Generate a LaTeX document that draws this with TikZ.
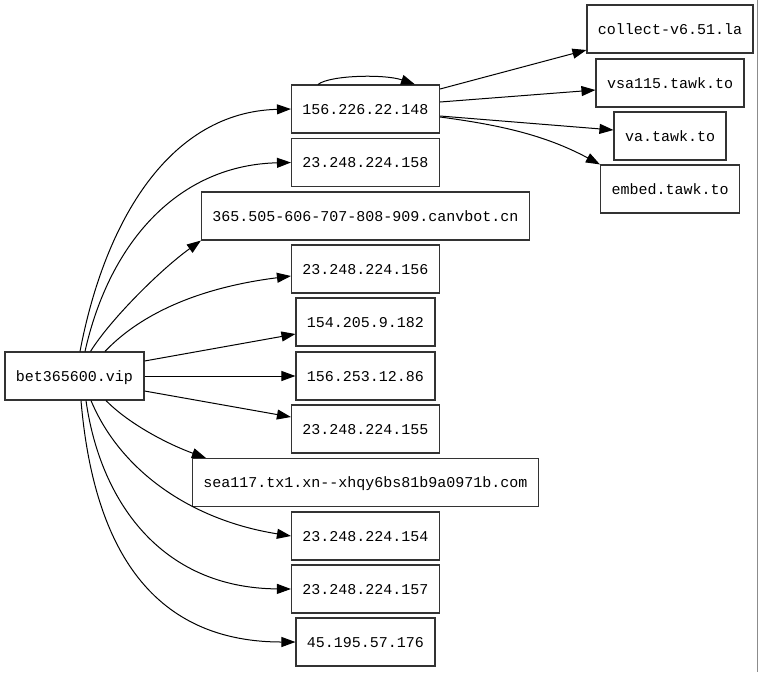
\documentclass[tikz,border=0pt]{standalone}
\usepackage{fontspec}
\newfontfamily\gvmono{Liberation Mono}
\usetikzlibrary{arrows.meta}
\tikzset{
  box/.style={draw=black!80, line width=1.1pt, rectangle, inner xsep=11pt, inner ysep=0pt,
    minimum height=48pt, text height=10pt, text depth=0pt, font=\gvmono\fontsize{15}{18}\selectfont},
  edge/.style={draw=black, line width=1pt, -{Triangle[length=14pt,width=10pt]}}
}
\begin{document}
\begin{tikzpicture}[x=1pt,y=-1pt]
\useasboundingbox (0,0) rectangle (759,672);
\draw[black!45, line width=1pt] (757.5,0) -- (757.5,672);

\node[box] (b) at (74.5,376) {bet365600.vip};
\node[box] (n1) at (365.5,109) {156.226.22.148};
\node[box] (n2) at (365.5,162.5) {23.248.224.158};
\node[box] (n3) at (365.5,216) {365.505-606-707-808-909.canvbot.cn};
\node[box] (n4) at (365.5,269) {23.248.224.156};
\node[box] (n5) at (365.5,322) {154.205.9.182};
\node[box] (n6) at (365.5,376) {156.253.12.86};
\node[box] (n7) at (365.5,429) {23.248.224.155};
\node[box] (n8) at (365.5,482.5) {sea117.tx1.xn--xhqy6bs81b9a0971b.com};
\node[box] (n9) at (365.5,536) {23.248.224.154};
\node[box] (n10) at (365.5,589) {23.248.224.157};
\node[box] (n11) at (365.5,642) {45.195.57.176};

\node[box] (c1) at (670,29) {collect-v6.51.la};
\node[box] (c2) at (670,83) {vsa115.tawk.to};
\node[box] (c3) at (670,136) {va.tawk.to};
\node[box] (c4) at (670,189) {embed.tawk.to};

% from bet365600.vip, upper side
\draw[edge] ([xshift=5.5pt]b.north) .. controls (105,220) and (170,112) .. (n1.west);
\draw[edge] ([xshift=10.5pt]b.north) .. controls (110,240) and (180,165) .. (n2.west);
\draw[edge] ([xshift=16pt]b.north) .. controls (110,320) and (160,270) .. (n3.south west);
\draw[edge] ([xshift=30.5pt]b.north) .. controls (130,325) and (180,290) .. ([yshift=-7pt]n4.west);
\draw[edge] ([yshift=15pt]b.east) -- ([yshift=-12pt]n5.west);
\draw[edge] (b.east) -- (n6.west);
\draw[edge] ([yshift=-15pt]b.east) -- ([yshift=12pt]n7.west);
% lower side
\draw[edge] ([xshift=31.5pt]b.south) .. controls (130,425) and (170,445) .. ([xshift=14pt]n8.north west);
\draw[edge] ([xshift=16.5pt]b.south) .. controls (120,470) and (190,520) .. (n9.west);
\draw[edge] ([xshift=11.5pt]b.south) .. controls (100,500) and (160,588) .. (n10.west);
\draw[edge] ([xshift=6.5pt]b.south) .. controls (92,530) and (140,642) .. (n11.west);

% from 156.226.22.148
\draw[edge] ([xshift=-47.5pt]n1.north) .. controls (330,75) and (385,74) .. ([xshift=49.5pt]n1.north);
\draw[edge] ([yshift=20pt]n1.east) -- ([yshift=-21pt]c1.west);
\draw[edge] ([yshift=7pt]n1.east) -- ([yshift=-7pt]c2.west);
\draw[edge] ([yshift=-7pt]n1.east) -- ([yshift=6pt]c3.west);
\draw[edge] ([yshift=-8pt]n1.east) .. controls (500,125) and (545,135) .. (c4.north west);
\end{tikzpicture}
\end{document}
